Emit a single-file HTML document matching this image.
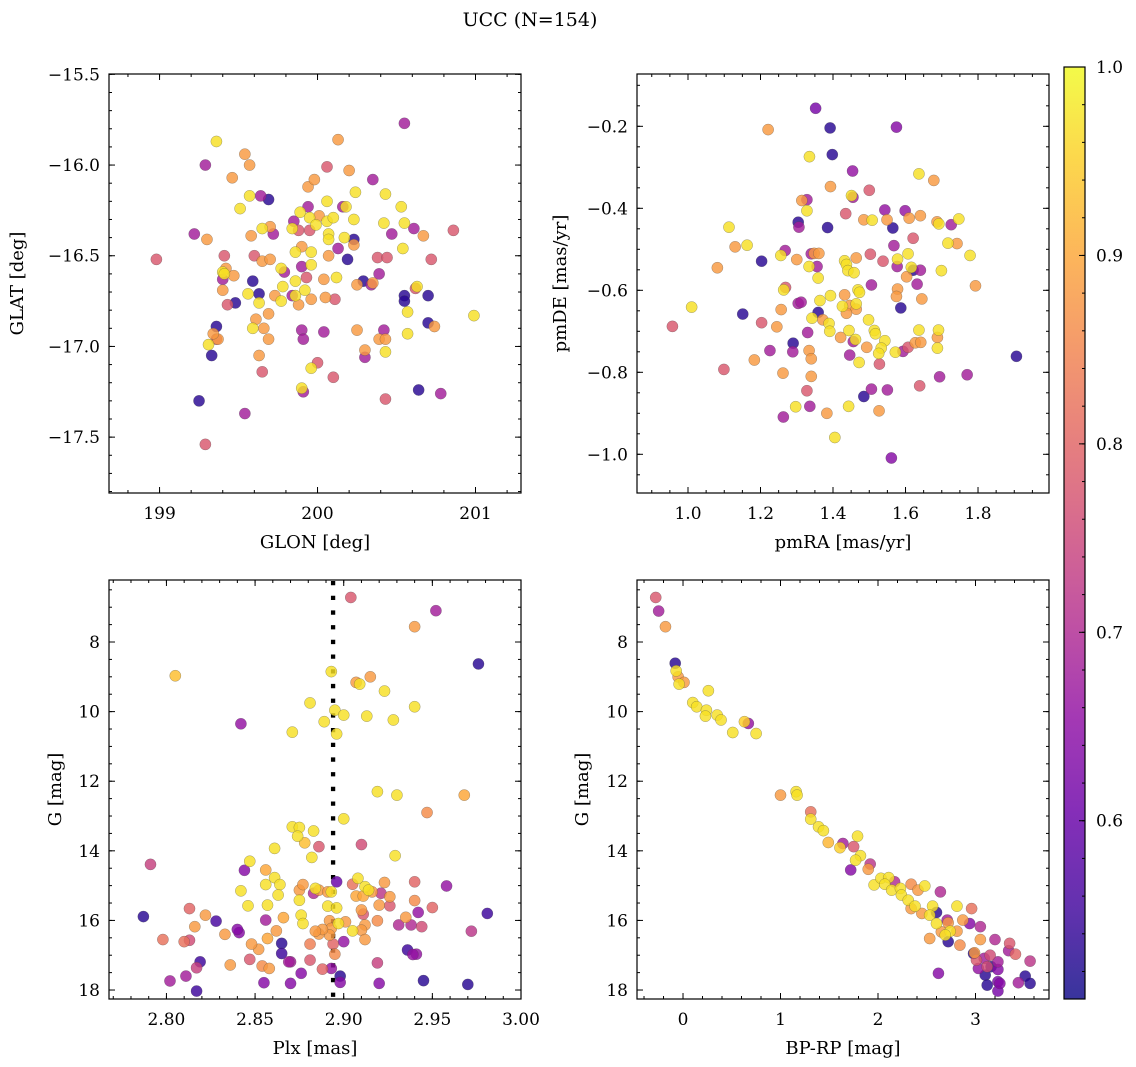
<!DOCTYPE html>
<html><head><meta charset="utf-8">
<style>
html,body{margin:0;padding:0;background:#fff;}
svg{display:block;font-family:"DejaVu Serif","Liberation Serif",serif;}
</style></head>
<body>
<svg id="fig" width="1136" height="1067" viewBox="0 0 1136 1067" xmlns="http://www.w3.org/2000/svg">
<text x="530" y="26" font-size="19" text-anchor="middle">UCC (N=154)</text>
</svg>
<script>
// ---- Panel 1: GLON / GLAT ----
const glon=[198.98,199.22,199.29,199.30,199.25,199.29,199.31,199.33,199.36,199.37,199.36,199.54,199.57,199.46,199.51,199.57,199.64,199.69,199.41,199.40,199.41,199.42,199.47,199.40,199.40,199.43,199.48,199.59,199.56,199.63,199.63,199.69,199.61,199.66,199.59,199.69,199.63,199.65,199.58,199.65,199.70,199.72,199.60,199.65,199.70,199.34,199.36,199.77,199.79,199.78,199.77,199.73,199.84,199.86,199.86,199.88,199.92,199.96,200.05,200.11,199.93,199.90,199.96,199.86,199.90,199.96,199.84,199.85,199.89,199.88,199.94,199.94,199.98,199.95,200.01,199.95,199.99,200.06,200.06,200.07,200.07,200.10,200.07,200.13,200.04,200.12,200.06,200.13,200.20,200.24,200.16,200.18,200.23,200.23,200.23,200.17,200.19,200.25,200.29,200.34,200.35,200.39,200.38,200.44,200.35,200.43,200.42,200.47,200.53,200.55,200.54,200.61,200.67,200.72,200.86,200.55,200.55,200.70,200.62,200.63,200.57,200.70,200.74,200.99,200.57,200.25,200.42,200.39,200.43,200.43,200.30,200.30,200.04,199.90,199.91,200.00,199.96,200.10,199.90,199.91,199.54,200.64,200.78,200.43,200.55];
const glat=[-16.52,-16.38,-16.00,-16.41,-17.30,-17.54,-16.99,-17.05,-16.89,-16.96,-15.87,-15.94,-16.00,-16.07,-16.24,-16.17,-16.17,-16.19,-16.50,-16.59,-16.60,-16.57,-16.61,-16.63,-16.69,-16.77,-16.76,-16.64,-16.71,-16.71,-16.76,-16.82,-16.85,-16.90,-16.90,-16.96,-17.05,-17.14,-16.39,-16.35,-16.34,-16.38,-16.50,-16.53,-16.52,-16.93,-16.96,-16.57,-16.59,-16.67,-16.75,-16.72,-16.72,-16.64,-16.72,-16.77,-16.69,-16.74,-16.73,-16.74,-16.62,-16.56,-16.55,-16.48,-16.45,-16.48,-16.35,-16.31,-16.26,-16.36,-16.23,-16.12,-16.08,-16.29,-16.28,-16.36,-16.33,-16.31,-16.20,-16.38,-16.41,-16.29,-16.50,-16.46,-16.63,-16.62,-16.01,-15.86,-16.03,-16.15,-16.23,-16.23,-16.30,-16.41,-16.44,-16.40,-16.52,-16.66,-16.64,-16.66,-16.65,-16.60,-16.51,-16.51,-16.08,-16.16,-16.32,-16.38,-16.23,-16.32,-16.46,-16.35,-16.39,-16.52,-16.36,-16.72,-16.75,-16.72,-16.68,-16.67,-16.81,-16.87,-16.89,-16.83,-16.93,-16.91,-16.91,-16.96,-16.96,-17.03,-17.02,-17.06,-16.92,-16.91,-16.96,-17.09,-17.12,-17.17,-17.23,-17.25,-17.37,-17.24,-17.26,-17.29,-15.77];
const prob1=[.78,.68,.68,.88,.53,.78,.97,.53,.53,.88,.97,.88,.88,.88,.97,.97,.68,.53,.78,.97,.97,.88,.88,.68,.88,.78,.53,.53,.97,.53,.97,.88,.88,.88,.97,.88,.88,.78,.88,.97,.88,.68,.78,.88,.88,.88,.78,.97,.68,.97,.97,.88,.68,.97,.97,.88,.97,.88,.88,.78,.78,.68,.97,.97,.88,.97,.97,.68,.97,.78,.68,.88,.88,.97,.88,.78,.97,.97,.97,.97,.97,.97,.88,.68,.88,.97,.78,.88,.88,.97,.68,.97,.97,.53,.88,.97,.53,.88,.53,.68,.88,.68,.78,.78,.68,.97,.97,.68,.97,.97,.97,.68,.88,.78,.78,.53,.53,.53,.78,.97,.97,.53,.88,.97,.97,.88,.68,.88,.88,.97,.88,.68,.68,.68,.68,.78,.97,.78,.97,.68,.68,.53,.68,.78,.68];

// ---- Panel 2: pmRA / pmDE ----
const pmra=[0.957,1.010,1.081,1.099,1.113,1.130,1.163,1.151,1.203,1.203,1.183,1.226,1.221,1.245,1.256,1.268,1.300,1.269,1.264,1.257,1.262,1.297,1.263,1.290,1.289,1.304,1.312,1.306,1.304,1.314,1.328,1.328,1.340,1.334,1.348,1.361,1.359,1.356,1.364,1.359,1.342,1.372,1.389,1.391,1.330,1.334,1.340,1.340,1.328,1.336,1.352,1.392,1.398,1.335,1.393,1.385,1.435,1.454,1.455,1.451,1.500,1.485,1.508,1.543,1.549,1.565,1.575,1.599,1.610,1.641,1.637,1.678,1.687,1.692,1.726,1.747,1.621,1.568,1.717,1.742,1.778,1.793,1.699,1.641,1.621,1.616,1.607,1.578,1.577,1.538,1.503,1.464,1.432,1.437,1.441,1.458,1.506,1.469,1.473,1.432,1.393,1.426,1.446,1.464,1.464,1.437,1.603,1.578,1.575,1.632,1.645,1.587,1.498,1.514,1.517,1.543,1.533,1.493,1.462,1.456,1.444,1.421,1.526,1.572,1.593,1.607,1.627,1.642,1.637,1.688,1.691,1.688,1.446,1.472,1.528,1.443,1.383,1.405,1.485,1.506,1.550,1.527,1.561,1.639,1.694,1.770,1.906];
const pmde=[-0.688,-0.641,-0.545,-0.793,-0.446,-0.494,-0.490,-0.658,-0.529,-0.679,-0.770,-0.747,-0.208,-0.689,-0.515,-0.503,-0.525,-0.593,-0.599,-0.647,-0.802,-0.884,-0.909,-0.729,-0.750,-0.632,-0.629,-0.446,-0.434,-0.381,-0.379,-0.406,-0.511,-0.542,-0.510,-0.510,-0.570,-0.542,-0.625,-0.654,-0.668,-0.672,-0.681,-0.700,-0.703,-0.747,-0.767,-0.810,-0.845,-0.883,-0.156,-0.204,-0.269,-0.274,-0.347,-0.447,-0.413,-0.309,-0.373,-0.369,-0.356,-0.428,-0.429,-0.404,-0.428,-0.448,-0.202,-0.406,-0.424,-0.418,-0.316,-0.332,-0.433,-0.438,-0.440,-0.426,-0.473,-0.491,-0.485,-0.486,-0.515,-0.589,-0.552,-0.551,-0.551,-0.544,-0.511,-0.524,-0.542,-0.529,-0.512,-0.521,-0.528,-0.537,-0.552,-0.557,-0.587,-0.599,-0.605,-0.611,-0.613,-0.639,-0.637,-0.633,-0.646,-0.656,-0.567,-0.597,-0.615,-0.585,-0.621,-0.643,-0.672,-0.698,-0.706,-0.723,-0.741,-0.739,-0.720,-0.725,-0.698,-0.715,-0.754,-0.751,-0.749,-0.739,-0.728,-0.727,-0.697,-0.715,-0.697,-0.741,-0.758,-0.776,-0.780,-0.883,-0.900,-0.959,-0.859,-0.841,-0.843,-0.894,-1.009,-0.833,-0.811,-0.806,-0.761];
const prob2=[.78,.97,.88,.78,.97,.88,.97,.53,.53,.78,.88,.68,.88,.88,.97,.68,.88,.78,.97,.88,.88,.97,.68,.53,.68,.68,.68,.68,.53,.88,.68,.97,.68,.97,.88,.88,.97,.68,.97,.53,.97,.88,.97,.97,.68,.88,.88,.88,.78,.68,.62,.53,.53,.97,.88,.53,.78,.66,.68,.97,.78,.88,.97,.66,.88,.53,.64,.66,.88,.88,.97,.88,.88,.97,.68,.97,.78,.68,.97,.88,.97,.88,.97,.68,.53,.97,.97,.97,.68,.78,.78,.88,.97,.97,.97,.97,.68,.97,.97,.88,.97,.97,.88,.97,.88,.88,.88,.88,.88,.68,.88,.53,.97,.97,.97,.97,.97,.88,.97,.68,.97,.88,.97,.97,.68,.78,.88,.88,.97,.88,.97,.97,.68,.97,.78,.97,.88,.97,.53,.68,.68,.88,.64,.78,.68,.68,.53];

// ---- Panel 3: Plx / G ----
const plx=[2.904,2.952,2.940,2.976,2.805,2.893,2.907,2.909,2.915,2.923,2.940,2.881,2.895,2.900,2.913,2.928,2.889,2.896,2.871,2.842,2.919,2.930,2.968,2.947,2.900,2.871,2.875,2.883,2.874,2.878,2.886,2.910,2.861,2.882,2.929,2.791,2.847,2.844,2.856,2.861,2.864,2.856,2.842,2.863,2.857,2.846,2.813,2.822,2.787,2.828,2.856,2.866,2.876,2.877,2.875,2.875,2.877,2.883,2.884,2.886,2.891,2.893,2.896,2.891,2.896,2.905,2.908,2.912,2.914,2.907,2.911,2.916,2.921,2.923,2.926,2.920,2.926,2.910,2.911,2.919,2.912,2.910,2.905,2.912,2.901,2.897,2.892,2.893,2.892,2.886,2.888,2.884,2.940,2.940,2.950,2.958,2.942,2.935,2.931,2.938,2.944,2.972,2.981,2.936,2.941,2.939,2.945,2.970,2.920,2.919,2.898,2.898,2.893,2.888,2.895,2.900,2.894,2.881,2.881,2.876,2.870,2.855,2.870,2.869,2.865,2.865,2.862,2.857,2.852,2.848,2.854,2.858,2.847,2.841,2.840,2.833,2.836,2.816,2.813,2.810,2.798,2.819,2.817,2.811,2.802,2.817];
const gmag3=[6.72,7.10,7.56,8.63,8.97,8.85,9.16,9.21,9.00,9.41,9.86,9.75,9.96,10.10,10.13,10.24,10.29,10.64,10.59,10.35,12.30,12.40,12.40,12.90,13.08,13.31,13.33,13.43,13.58,13.77,13.88,13.82,13.93,14.19,14.14,14.39,14.30,14.56,14.55,14.77,14.97,14.97,15.15,15.27,15.56,15.58,15.66,15.85,15.89,16.02,15.99,15.92,15.85,16.09,15.42,15.13,14.97,15.22,15.08,15.13,15.18,15.18,14.89,15.59,15.64,14.96,14.79,15.03,15.13,15.30,15.30,15.18,15.22,14.91,15.32,15.56,15.58,15.70,15.82,16.01,16.13,16.28,16.30,16.55,16.04,16.09,16.01,16.23,16.42,16.39,16.26,16.31,14.89,15.43,15.63,15.01,15.77,15.91,16.13,16.13,16.18,16.31,15.80,16.85,16.97,16.98,17.73,17.84,17.81,17.22,17.60,17.78,17.38,17.40,16.97,16.61,16.68,16.68,17.14,17.52,17.81,17.79,17.19,17.19,16.66,16.95,16.30,16.52,16.83,16.68,17.31,17.38,17.12,16.35,16.26,16.40,17.28,16.18,16.57,16.61,16.55,17.19,17.36,17.60,17.74,18.03];
const prob3=[.78,.68,.88,.53,.93,.97,.88,.97,.88,.97,.97,.97,.97,.97,.97,.97,.97,.97,.97,.66,.97,.97,.90,.86,.97,.97,.97,.97,.97,.93,.78,.76,.97,.97,.97,.74,.97,.64,.90,.97,.97,.97,.97,.97,.97,.97,.80,.88,.53,.56,.68,.90,.97,.97,.97,.88,.88,.70,.97,.88,.88,.97,.60,.97,.97,.82,.97,.97,.97,.90,.90,.88,.72,.88,.88,.88,.78,.88,.78,.86,.88,.88,.97,.88,.88,.97,.88,.88,.88,.88,.88,.88,.80,.86,.80,.66,.66,.88,.70,.70,.76,.72,.55,.55,.66,.66,.53,.53,.64,.74,.53,.64,.66,.80,.86,.66,.80,.84,.78,.64,.64,.64,.68,.68,.53,.55,.88,.90,.88,.88,.86,.88,.78,.64,.64,.88,.88,.88,.76,.82,.82,.55,.74,.68,.68,.55,.64,.64];

// ---- Panel 4: BP-RP / G ----
const bprp=[-0.28,-0.25,-0.18,-0.08,-0.07,-0.05,0.01,-0.04,0.26,0.10,0.14,0.24,0.23,0.35,0.39,0.51,0.67,0.63,0.75,1.00,1.16,1.17,1.31,1.31,1.39,1.44,1.49,1.64,1.61,1.75,1.79,1.82,1.77,1.92,1.72,1.90,1.96,2.03,2.11,2.17,2.07,2.14,2.23,2.34,2.41,2.48,2.24,2.31,2.38,2.34,2.45,2.56,2.60,2.64,2.53,2.60,2.71,2.72,2.81,2.87,2.96,2.94,2.74,2.81,2.65,2.72,2.84,2.53,3.05,3.05,3.20,3.35,3.34,3.41,3.56,2.98,2.99,3.01,3.09,3.15,3.23,3.12,3.03,3.10,3.12,3.23,3.23,3.25,3.23,3.44,3.51,3.56,2.62,3.16,2.69];
const gmag4=[6.72,7.11,7.56,8.61,8.83,9.00,9.16,9.21,9.40,9.74,9.86,9.96,10.13,10.10,10.24,10.60,10.34,10.29,10.63,12.40,12.30,12.40,12.88,13.09,13.31,13.42,13.76,13.79,13.91,13.88,13.58,14.14,14.27,14.38,14.55,14.53,14.98,14.79,14.77,14.89,14.96,15.13,15.08,14.96,15.13,15.01,15.27,15.42,15.59,15.66,15.80,15.59,15.77,15.18,15.85,16.09,15.99,16.07,15.59,15.99,15.66,16.09,16.31,16.31,16.33,16.61,16.71,16.52,16.18,16.55,16.55,16.66,16.87,16.97,17.17,16.95,16.93,17.14,17.09,17.00,17.19,17.33,17.38,17.57,17.86,17.41,17.76,17.81,18.03,17.79,17.60,17.81,17.52,17.33,16.42];
const prob4=[.78,.68,.88,.53,.97,.88,.88,.97,.97,.97,.97,.97,.97,.97,.97,.97,.66,.95,.97,.88,.97,.97,.82,.97,.97,.97,.92,.68,.95,.78,.97,.97,.97,.72,.64,.88,.97,.97,.97,.70,.97,.97,.97,.86,.88,.97,.97,.97,.97,.88,.88,.97,.53,.70,.97,.97,.68,.88,.97,.88,.82,.64,.97,.88,.88,.53,.86,.88,.70,.88,.70,.78,.68,.80,.72,.53,.88,.78,.68,.76,.68,.76,.66,.53,.53,.64,.62,.64,.62,.68,.53,.53,.64,.53,.97];

// colorbar range
const cmin=0.5054, cmax=1.0;
const cbTicks=[0.6,0.7,0.8,0.9,1.0];

const NS="http://www.w3.org/2000/svg";
const svg=document.getElementById('fig');
function mk(tag,attrs,parent){const e=document.createElementNS(NS,tag);for(const k in attrs)e.setAttribute(k,attrs[k]);(parent||svg).appendChild(e);return e;}

const plasmaStops=[[13,8,135],[65,4,157],[106,0,168],[143,13,164],[177,42,144],[204,71,120],[225,100,98],[242,132,75],[252,166,54],[252,206,37],[240,249,33]];
function plasma(t){t=Math.max(0,Math.min(1,t));const f=t*10,i=Math.min(9,Math.floor(f)),r=f-i;const a=plasmaStops[i],b=plasmaStops[i+1];
 return 'rgb('+[0,1,2].map(k=>Math.round(a[k]+(b[k]-a[k])*r)).join(',')+')';}
function col(p){return plasma((p-cmin)/(cmax-cmin));}

function fmt(v,d){const s=Math.abs(v).toFixed(d);return (v<-1e-9?'\u2212':'')+s;}

function makeAxes(o){
 const {px0,px1,py0,py1,xmin,xmax,ymin,ymax,invY}=o;
 const sx=v=>px0+(v-xmin)/(xmax-xmin)*(px1-px0);
 const sy=invY?(v=>py0+(v-ymin)/(ymax-ymin)*(py1-py0)):(v=>py1-(v-ymin)/(ymax-ymin)*(py1-py0));
 const g=mk('g',{});
 
 
 const tg=mk('g',{stroke:'#000','stroke-width':1},g);
 
 
 function rng(a,b,s){const r=[];for(let v=Math.ceil(a/s-1e-6)*s;v<=b+1e-9;v+=s)r.push(+v.toFixed(6));return r;}
 rng(xmin,xmax,o.xminor).forEach(v=>{const x=sx(v);mk('line',{x1:x,x2:x,y1:py1,y2:py1-3},tg);mk('line',{x1:x,x2:x,y1:py0,y2:py0+3},tg);});
 rng(ymin,ymax,o.yminor).forEach(v=>{const y=sy(v);mk('line',{x1:px0,x2:px0+3,y1:y,y2:y},tg);mk('line',{x1:px1,x2:px1-3,y1:y,y2:y},tg);});
 o.xticks.forEach(v=>{const x=sx(v);mk('line',{x1:x,x2:x,y1:py1,y2:py1-6},tg);mk('line',{x1:x,x2:x,y1:py0,y2:py0+6},tg);
  const t=mk('text',{x:x,y:py1+26,'font-size':17,'text-anchor':'middle'},g);t.textContent=fmt(v,o.xdec);
  
  });
 o.yticks.forEach(v=>{const y=sy(v);mk('line',{x1:px0,x2:px0+6,y1:y,y2:y},tg);mk('line',{x1:px1,x2:px1-6,y1:y,y2:y},tg);
  const t=mk('text',{x:px0-9,y:y+6,'font-size':17,'text-anchor':'end'},g);t.textContent=fmt(v,o.ydec);
  
  });
 const fr=mk('rect',{x:px0,y:py0,width:px1-px0,height:py1-py0,fill:'none',stroke:'#000','stroke-width':1.2},g);
 
 
 const xl=mk('text',{x:(px0+px1)/2,y:py1+55,'font-size':18,'text-anchor':'middle'},g);xl.textContent=o.xlabel;
 
 
 const yl=mk('text',{x:0,y:0,'font-size':18,'text-anchor':'middle',transform:'translate('+o.ylx+','+(py0+py1)/2+') rotate(-90)'},g);yl.textContent=o.ylabel;
 
 
 return {sx,sy,g};
}

function scatter(ax,xs,ys,ps,name){
 const idx=xs.map((_,i)=>i).sort((a,b)=>ps[a]-ps[b]);
 const sg=mk('g',{},ax.g);
 
 
 idx.forEach(i=>{
  const c=mk('circle',{cx:ax.sx(xs[i]),cy:ax.sy(ys[i]),r:5.6,fill:col(ps[i]),'fill-opacity':0.82,stroke:'#444','stroke-width':0.45,'stroke-opacity':0.55},sg);
  
  
 });
}

const ax1=makeAxes({name:'glon-glat-panel',px0:109,px1:521,py0:74,py1:493,xmin:198.68,xmax:201.288,ymin:-17.808,ymax:-15.498,
 xticks:[199,200,201],xdec:0,xminor:0.2,yticks:[-15.5,-16,-16.5,-17,-17.5],ydec:1,yminor:0.1,xlabel:'GLON [deg]',ylabel:'GLAT [deg]',ylx:23});
scatter(ax1,glon,glat,prob1,'glon-glat-points');

const ax2=makeAxes({name:'pm-panel',px0:637,px1:1049,py0:74,py1:493,xmin:0.8593,xmax:1.9958,ymin:-1.0944,ymax:-0.0724,
 xticks:[1.0,1.2,1.4,1.6,1.8],xdec:1,xminor:0.05,yticks:[-0.2,-0.4,-0.6,-0.8,-1.0],ydec:1,yminor:0.05,xlabel:'pmRA [mas/yr]',ylabel:'pmDE [mas/yr]',ylx:566});
scatter(ax2,pmra,pmde,prob2,'pm-points');

const ax3=makeAxes({name:'plx-g-panel',px0:109,px1:521,py0:580,py1:999,xmin:2.7676,xmax:3.0,ymin:6.218,ymax:18.258,invY:true,
 xticks:[2.80,2.85,2.90,2.95,3.00],xdec:2,xminor:0.01,yticks:[8,10,12,14,16,18],ydec:0,yminor:0.5,xlabel:'Plx [mas]',ylabel:'G [mag]',ylx:61});
const plxMedian=2.894;
const dl=mk('line',{x1:ax3.sx(plxMedian),x2:ax3.sx(plxMedian),y1:581,y2:999,stroke:'#000','stroke-width':4.3,'stroke-dasharray':'4.3 10.4'},ax3.g);


scatter(ax3,plx,gmag3,prob3,'plx-g-points');

const ax4=makeAxes({name:'cmd-panel',px0:637,px1:1049,py0:580,py1:999,xmin:-0.472,xmax:3.754,ymin:6.218,ymax:18.258,invY:true,
 xticks:[0,1,2,3],xdec:0,xminor:0.2,yticks:[8,10,12,14,16,18],ydec:0,yminor:0.5,xlabel:'BP-RP [mag]',ylabel:'G [mag]',ylx:588});
scatter(ax4,bprp,gmag4,prob4,'cmd-points');

// colorbar
(function(){
 const x0=1064,x1=1085,y0=67,y1=999;
 const cy=v=>y1-(v-cmin)/(cmax-cmin)*(y1-y0);
 const g=mk('g',{});
 
 
 const defs=mk('defs',{},g);
 const lg=mk('linearGradient',{id:'cbg',x1:0,y1:1,x2:0,y2:0},defs);
 for(let i=0;i<=20;i++){mk('stop',{offset:(i/20),'stop-color':plasma(i/20)},lg);}
 const r=mk('rect',{x:x0,y:y0,width:x1-x0,height:y1-y0,fill:'url(#cbg)','fill-opacity':0.82},g);
 
 
 mk('rect',{x:x0,y:y0,width:x1-x0,height:y1-y0,fill:'none',stroke:'#000','stroke-width':1.2},g);
 for(let v=0.52;v<1.0;v+=0.02){const y=cy(v);mk('line',{x1:x1,x2:x1-3,y1:y,y2:y,stroke:'#000','stroke-width':1},g);}
 cbTicks.forEach(v=>{const y=cy(v);mk('line',{x1:x1,x2:x1-6,y1:y,y2:y,stroke:'#000','stroke-width':1},g);
  const t=mk('text',{x:x1+11,y:y+6,'font-size':17},g);t.textContent=v.toFixed(1);
  
  });
})();
</script>
</body></html>
